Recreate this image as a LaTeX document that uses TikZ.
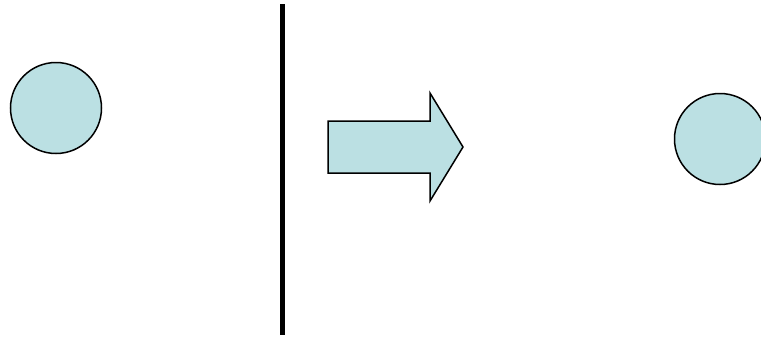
\documentclass[tikz,border=0pt]{standalone}
\usepackage{tikz}
\definecolor{ballcol}{RGB}{187,224,227}
\colorlet{wallcol}{black}
\tikzset{ball/.style={circle, draw=black, line width=1.5pt, fill=ballcol, minimum size=91pt, inner sep=0pt}}

\begin{document}
\begin{tikzpicture}[x=1pt, y=-1pt]

  % Frame.
  \useasboundingbox (0,0) rectangle (761,338);

  % Ball before the wall.
  \node[ball] (before) at (56,108) {};

  % Wall.
  \draw[line width=5pt, wallcol] (282,4) -- (282,335);

  % Arrow (fat block arrow).
  \draw[line width=1.5pt, fill=ballcol, line join=miter]
    (328,121) -- (430,121) -- (430,93) -- (463,147)
    -- (430,201) -- (430,173) -- (328,173) -- cycle;

  % Ball after the wall.
  \node[ball] (after) at (720,139) {};

\end{tikzpicture}
\end{document}
